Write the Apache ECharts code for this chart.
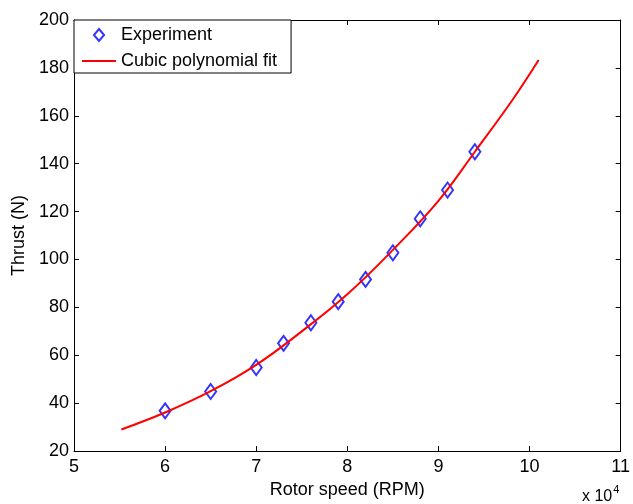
<!DOCTYPE html>
<html>
<head>
<meta charset="utf-8">
<script src="https://cdn.jsdelivr.net/npm/echarts@6/dist/echarts.min.js"></script>
<style>html,body{margin:0;padding:0;background:#fff}#c{width:633px;height:504px}</style>
</head>
<body>
<div id="c"></div>
<script>
// Experiment data (rotor speed in units of 10^4 RPM, thrust in N)
const expSpeed  = [6.0, 6.5, 7.0, 7.3, 7.6, 7.9, 8.2, 8.5, 8.8, 9.1, 9.4];
const expThrust = [36.8, 44.9, 54.9, 65.0, 73.6, 82.4, 91.7, 102.8, 117.0, 129.0, 145.0];
// Cubic polynomial fit curve
const fitSpeed  = [5.52, 6.0, 6.5, 7.0, 7.5, 8.0, 8.5, 9.0, 9.4, 9.81, 10.1];
const fitThrust = [29.0, 36.1, 45.0, 56.0, 70.0, 85.5, 104.0, 124.5, 145.0, 166.5, 183.3];
const xTicks = [5, 6, 7, 8, 9, 10, 11];
const yTicks = [20, 40, 60, 80, 100, 120, 140, 160, 180, 200];

const FONT = "'Liberation Sans', Arial, sans-serif";
const FS = 18;
const chart = echarts.init(document.getElementById('c'), null, {renderer: 'canvas'});
const axisCommon = {
  axisLine: {show: true, onZero: false, lineStyle: {color: '#000', width: 1}},
  axisTick: {show: true, inside: true, length: 5, lineStyle: {color: '#000', width: 1}},
  splitLine: {show: false}
};
chart.setOption({
  animation: false,
  backgroundColor: '#fff',
  grid: {left: 74, top: 20, right: 11, bottom: 52, containLabel: false},
  legend: {
    left: 74, top: 20, orient: 'vertical',
    borderColor: '#000', borderWidth: 1, backgroundColor: '#fff', borderRadius: 0,
    padding: [6, 14, 3, 8], itemGap: 8, itemWidth: 34, itemHeight: 12,
    textStyle: {fontFamily: FONT, fontSize: FS, color: '#000'},
    data: [
      {name: 'Experiment', icon: 'path://M5.5,0 L11,6.5 L5.5,13 L0,6.5 Z'},
      {name: 'Cubic polynomial fit', icon: 'path://M0,0 L34,0 L34,2 L0,2 Z'}
    ]
  },
  xAxis: [
    Object.assign({type: 'value', min: xTicks[0], max: xTicks[xTicks.length - 1], interval: 1, position: 'bottom',
      name: 'Rotor speed (RPM)', nameLocation: 'middle', nameGap: 26,
      nameTextStyle: {fontFamily: FONT, fontSize: FS, color: '#000'},
      axisLabel: {fontFamily: FONT, fontSize: FS, color: '#000', margin: 7}}, axisCommon),
    Object.assign({type: 'value', min: xTicks[0], max: xTicks[xTicks.length - 1], interval: 1, position: 'top',
      axisLabel: {show: false}}, axisCommon)
  ],
  yAxis: [
    Object.assign({type: 'value', min: yTicks[0], max: yTicks[yTicks.length - 1], interval: 20, position: 'left',
      name: 'Thrust (N)', nameLocation: 'middle', nameGap: 38,
      nameTextStyle: {fontFamily: FONT, fontSize: FS, color: '#000'},
      axisLabel: {fontFamily: FONT, fontSize: FS, color: '#000', margin: 5}}, axisCommon),
    Object.assign({type: 'value', min: yTicks[0], max: yTicks[yTicks.length - 1], interval: 20, position: 'right',
      axisLabel: {show: false}}, axisCommon)
  ],
  graphic: [{
    type: 'text', left: 582, top: 484,
    style: {
      text: '{a|x 10}{b|4}',
      rich: {
        a: {fontFamily: FONT, fontSize: 16, fill: '#000', color: '#000', verticalAlign: 'bottom'},
        b: {fontFamily: FONT, fontSize: 11, fill: '#000', color: '#000', verticalAlign: 'top', padding: [0, 0, 10, 1]}
      }
    }
  }],
  series: [
    {
      name: 'Experiment', type: 'scatter', xAxisIndex: 0, yAxisIndex: 0,
      symbol: 'diamond', symbolSize: [11, 15],
      itemStyle: {color: 'rgba(255,255,255,0)', borderColor: '#0000ff', borderWidth: 2},
      data: expSpeed.map((s, i) => [s, expThrust[i]]), z: 2
    },
    {
      name: 'Cubic polynomial fit', type: 'line', xAxisIndex: 0, yAxisIndex: 0,
      smooth: 0.4, symbol: 'none', showSymbol: false,
      lineStyle: {color: '#ff0000', width: 2}, itemStyle: {color: '#ff0000'},
      data: fitSpeed.map((s, i) => [s, fitThrust[i]]), z: 3
    }
  ]
});
</script>
</body>
</html>
